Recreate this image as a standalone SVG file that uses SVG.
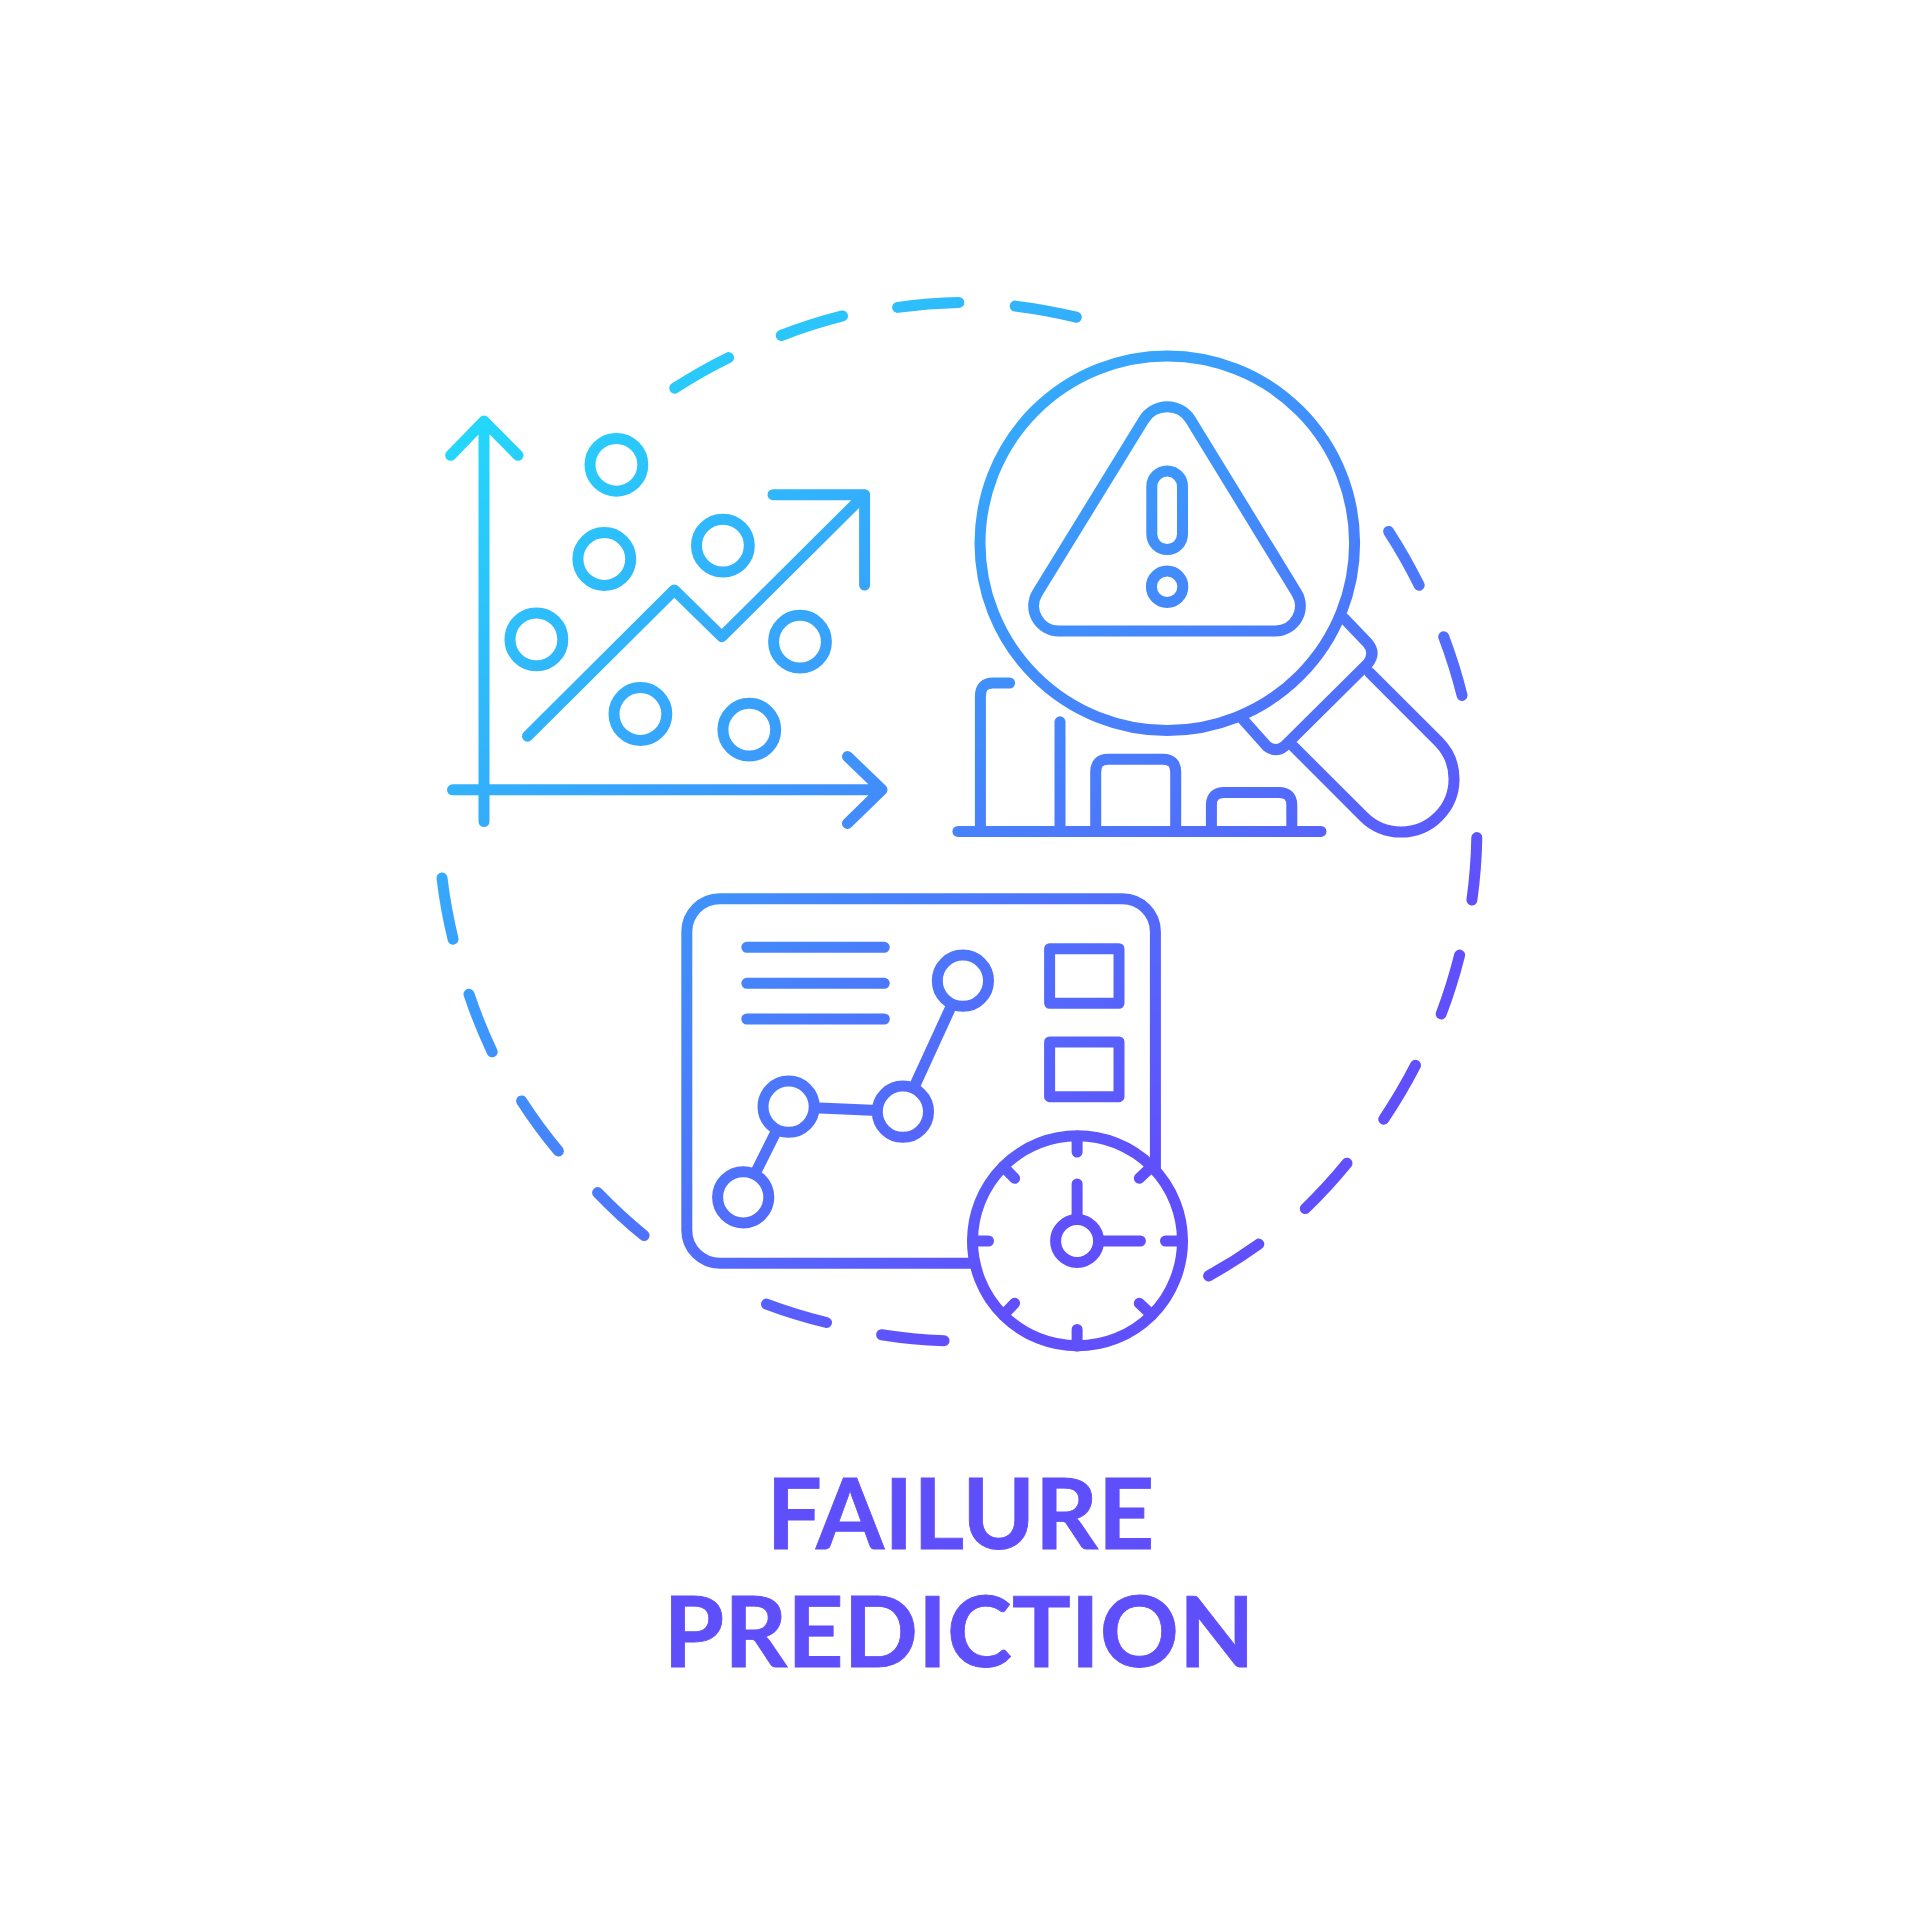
<svg xmlns="http://www.w3.org/2000/svg" width="1920" height="1920" viewBox="0 0 1920 1920">
<defs>
<linearGradient id="g" gradientUnits="userSpaceOnUse" x1="450" y1="400" x2="1100" y2="1200">
<stop offset="0" stop-color="#22dcfb"/><stop offset="0.45" stop-color="#3a9cfb"/><stop offset="1" stop-color="#6050fb"/>
</linearGradient>
</defs>
<style>
.s{fill:none;stroke:url(#g);stroke-width:11;stroke-linecap:round;stroke-linejoin:round}
.t{font-family:"Lato","Noto Sans",sans-serif;font-weight:700;font-size:98px;fill:#5e4ffb;stroke:#5e4ffb;stroke-width:0.8;text-anchor:middle}
</style>
<rect width="1920" height="1920" fill="#fff"/>
<g id="ring" class="s">
<path d="M674.7 388.2A520 520 0 0 1 728.6 357.6"/>
<path d="M781.2 335.5A520 520 0 0 1 842.5 315.9"/>
<path d="M897.6 307.4A520 520 0 0 1 958.8 302.5"/>
<path d="M1015.2 306.1A520 520 0 0 1 1076.3 317.2"/>
<path d="M1388.6 531.4A520 520 0 0 1 1419.2 585.3"/>
<path d="M1443.7 636.7A520 520 0 0 1 1462.1 695.5"/>
<path d="M1476.8 837.6A520 520 0 0 1 1471.9 900"/>
<path d="M1459.6 955.1A520 520 0 0 1 1441.2 1013.9"/>
<path d="M1415.5 1065.3A520 520 0 0 1 1383.7 1119.2"/>
<path d="M1347 1163.3A520 520 0 0 1 1305.3 1208.6"/>
<path d="M1258.8 1244.1A520 520 0 0 1 1208.6 1275.9"/>
<path d="M944.1 1340.8A520 520 0 0 1 881.6 1334.7"/>
<path d="M826.5 1322.5A520 520 0 0 1 766.5 1304.1"/>
<path d="M644.1 1235.5A520 520 0 0 1 597.6 1192.6"/>
<path d="M558.4 1151A520 520 0 0 1 521.6 1100.9"/>
<path d="M492.2 1051.8A520 520 0 0 1 469 994.3"/>
<path d="M453.1 939.2A520 520 0 0 1 442 878"/>
</g>
<g id="scatter-chart" class="s">
<path d="M484 821.5V421M450.7 455.3L484 421L518 455.3"/>
<path d="M452.5 789.8H882M847.5 756.5L882 789.8L847.5 823.4"/>
<path d="M527.5 736.2L674.3 590L721.8 636.7L864.3 495"/>
<path d="M773 494.7H864.6V585"/>
<circle cx="616.4" cy="464.8" r="26.4"/>
<circle cx="604.3" cy="559" r="26.4"/>
<circle cx="722.9" cy="545.6" r="26.4"/>
<circle cx="536.4" cy="639.4" r="26.4"/>
<circle cx="800" cy="641.7" r="26.4"/>
<circle cx="640.4" cy="714" r="26.4"/>
<circle cx="749.3" cy="729.7" r="26.4"/>
</g>
<g id="magnifier" class="s">
<circle cx="1167.3" cy="543.2" r="187.3"/>
<path d="M1058.6 631H1275.4A25 25 0 0 0 1296.65 592.9L1190.6 419.8A27.5 27.5 0 0 0 1143.8 419.8L1037.4 592.9A25 25 0 0 0 1058.6 631Z"/>
<rect x="1151.8" y="471" width="30.7" height="78.6" rx="15.35"/>
<circle cx="1167.1" cy="586.8" r="15.7"/>
<path d="M1344.3 618.6L1367.5 642.9Q1376.4 653.2 1367.5 663.9L1284.6 746.1Q1275.7 753.2 1266.8 746.1L1242.9 719.3"/>
<path d="M1369.6 672.6L1438.5 741.5A53 53 0 0 1 1363.5 816.5L1293.6 746.6"/>
</g>
<g id="bars" class="s">
<path d="M957.9 831.4H1321"/>
<path d="M980.4 831.4V696Q980.4 683 993 683H1009.6"/>
<path d="M1060 831.4V721.8"/>
<path d="M1095.7 831.4V772Q1095.7 759.3 1108 759.3H1163Q1175.7 759.3 1175.7 772V831.4"/>
<path d="M1211.4 831.4V805Q1211.4 792.5 1224 792.5H1279Q1291.8 792.5 1291.8 805V831.4"/>
</g>
<g id="dashboard" class="s">
<path d="M974.9 1263.3H720A33 33 0 0 1 686.8 1230.3V931.7A33 33 0 0 1 719.8 898.7H1122.4A33 33 0 0 1 1155.4 931.7V1170.4"/>
<path d="M746.8 947.3H884.3M746.8 983.3H884.3M746.8 1019H884.3"/>
<rect x="1049.6" y="948.7" width="69.4" height="54.6"/>
<rect x="1049.6" y="1042" width="69.4" height="54.7"/>
<circle cx="962.9" cy="980.7" r="25.6"/>
<circle cx="902.9" cy="1111.7" r="25.6"/>
<circle cx="788.6" cy="1106.7" r="25.6"/>
<circle cx="743.2" cy="1197.3" r="25.6"/>
<path d="M952.2 1004L913.5 1088.4M877.3 1110.6L814.2 1107.8M777.1 1129.6L754.7 1174.4" stroke-linecap="butt"/>
</g>
<g id="clock" class="s">
<circle cx="1077.5" cy="1240.8" r="105"/>
<circle cx="1077.1" cy="1241" r="21.5"/>
<path d="M1077.1 1184V1219.5M1098.6 1241H1140.4"/>
<path d="M1077.1 1136V1152M1077.1 1329.5V1346M972.5 1241H988.5M1165.5 1241H1182.5"/>
<path d="M1003.3 1166.6L1014.6 1178.3M1151.7 1166.6L1139.3 1178.3M1003.3 1315L1014.6 1303.3M1151.7 1315L1139.3 1303.3"/>
</g>
<g id="title">
<text class="t" x="960.4" y="1549">FAILURE</text>
<text class="t" x="959" y="1666.5">PREDICTION</text>
</g>
</svg>
